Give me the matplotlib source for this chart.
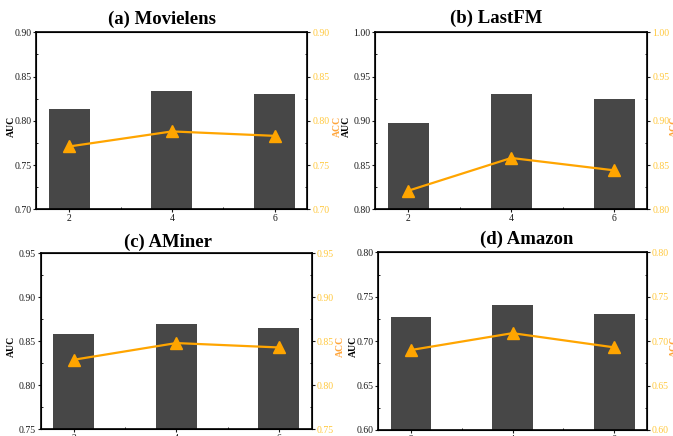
import matplotlib
matplotlib.use("Agg")
import matplotlib.pyplot as plt
from matplotlib.ticker import MultipleLocator

plt.rcParams['font.family'] = ['Liberation Serif', 'DejaVu Serif']

x_vals = [2, 4, 6]
titles = ["(a) Movielens", "(b) LastFM", "(c) AMiner", "(d) Amazon"]
auc = [
    [0.813, 0.834, 0.830],
    [0.898, 0.930, 0.925],
    [0.858, 0.870, 0.865],
    [0.727, 0.741, 0.730],
]
acc = [
    [0.771, 0.788, 0.783],
    [0.821, 0.858, 0.844],
    [0.829, 0.848, 0.843],
    [0.690, 0.709, 0.693],
]
ylims = [(0.70, 0.90), (0.80, 1.00), (0.75, 0.95), (0.60, 0.80)]

W, H = 673, 436
fig = plt.figure(figsize=(W / 100, H / 100), dpi=100)

# axes boxes in pixels: left, right, top, bottom
boxes = [
    (36.3, 307.5, 32.3, 209.3),
    (375.3, 647.3, 32.3, 209.3),
    (40.7, 311.7, 253.3, 429.3),
    (378.3, 646.7, 252.3, 430.0),
]
title_pos = [(162, 23.5), (496, 22.7), (168, 246.5), (527, 244.0)]
auc_label_x = [-0.075, -0.09, -0.09, -0.076]
acc_label_x = [1.093, 1.082, 1.088, 1.088]

bar_color = "#474747"
line_color = "#ffa500"
tick_color_r = "#ffc83c"
acc_label_color = "#ffa53a"

for i in range(4):
    l, r, t, b = boxes[i]
    ax = fig.add_axes([l / W, 1 - b / H, (r - l) / W, (b - t) / H])
    ax.bar(x_vals, auc[i], width=0.8, color=bar_color, zorder=2)
    ax.set_ylim(*ylims[i])
    ax.set_xticks(x_vals)
    ax.xaxis.set_minor_locator(MultipleLocator(1))
    ax.yaxis.set_major_locator(MultipleLocator(0.05))
    ax.yaxis.set_minor_locator(MultipleLocator(0.025))
    ax.yaxis.set_major_formatter(matplotlib.ticker.FormatStrFormatter('%.2f'))
    ax.tick_params(axis='both', which='major', labelsize=7, length=2.5, width=0.8, pad=1.0, colors='#1a1a1a')
    ax.tick_params(axis='both', which='minor', length=1.5, width=0.6, direction='in')
    ax.set_ylabel("AUC", fontsize=7, fontweight='bold')
    ax.yaxis.set_label_coords(auc_label_x[i], 0.47)
    for s in ax.spines.values():
        s.set_linewidth(1.2)

    ax2 = ax.twinx()
    ax2.plot(x_vals, acc[i], color=line_color, marker='^', markersize=8, linewidth=1.6, zorder=3)
    ax2.set_ylim(*ylims[i])
    ax2.yaxis.set_major_locator(MultipleLocator(0.05))
    ax2.yaxis.set_minor_locator(MultipleLocator(0.025))
    ax2.yaxis.set_major_formatter(matplotlib.ticker.FormatStrFormatter('%.2f'))
    ax2.tick_params(axis='y', which='major', labelsize=7, length=2.5, width=0.8, pad=1.0, colors='#1a1a1a', labelcolor=tick_color_r)
    ax2.tick_params(axis='y', which='minor', length=1.5, width=0.6, direction='in')
    ax2.set_ylabel("ACC", fontsize=7, fontweight='bold', color=acc_label_color)
    ax2.yaxis.set_label_coords(acc_label_x[i], 0.47)

    tx, ty = title_pos[i]
    fig.text(tx / W, 1 - ty / H, titles[i], ha='center', va='baseline',
             fontsize=13.5, fontweight='bold')

fig.savefig("out.png", dpi=100)
